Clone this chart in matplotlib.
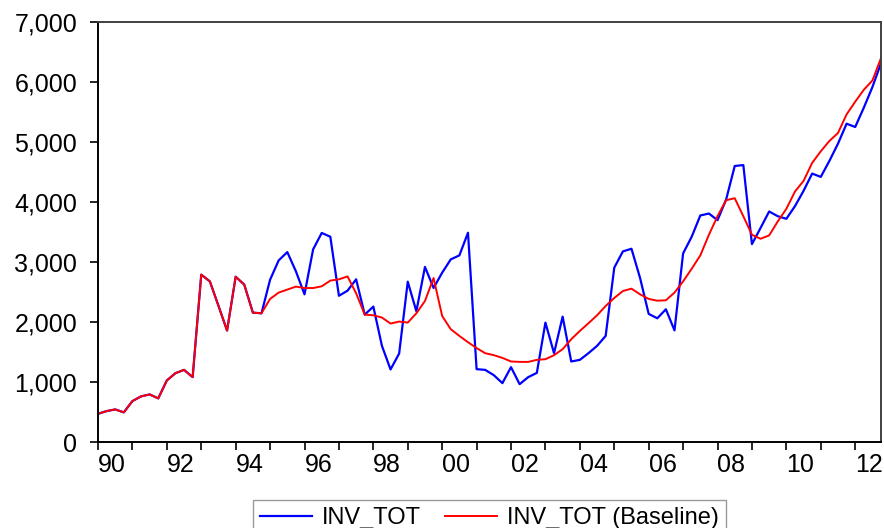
import matplotlib
matplotlib.use("Agg")
import matplotlib.pyplot as plt
from matplotlib.ticker import FuncFormatter, FixedLocator
import numpy as np

plt.rcParams['font.family'] = ['Liberation Sans', 'DejaVu Sans']

# quarterly series, 1990Q1 - 2012Q4
start_year = 1990
inv_tot_baseline = [
    470, 515, 543, 494, 682, 760, 793, 727, 1026, 1147, 1202, 1081,
    2789, 2677, 2270, 1857, 2755, 2622, 2156, 2145, 2385, 2490, 2540, 2590,
    2566, 2566, 2595, 2690, 2711, 2760, 2478, 2123, 2112, 2074, 1974, 2007,
    1990, 2145, 2350, 2733, 2100, 1879, 1768, 1663, 1566, 1480, 1447, 1402,
    1342, 1335, 1335, 1369, 1380, 1447, 1547, 1713, 1851, 1979, 2112, 2267,
    2400, 2516, 2556, 2461, 2385, 2355, 2362, 2490, 2677, 2888, 3110, 3454,
    3763, 4030, 4063, 3763, 3454, 3387, 3443, 3676, 3886, 4174, 4352, 4652,
    4845, 5017, 5150, 5460, 5671, 5870, 6025, 6398,
]
inv_tot = [
    470, 515, 543, 494, 682, 760, 793, 727, 1026, 1147, 1202, 1081,
    2789, 2677, 2270, 1857, 2755, 2622, 2156, 2145, 2705, 3027, 3165, 2845,
    2461, 3210, 3484, 3421, 2437, 2522, 2711, 2123, 2257, 1602, 1209, 1475,
    2672, 2179, 2918, 2567, 2822, 3044, 3110, 3488, 1214, 1202, 1114, 981,
    1247, 964, 1081, 1152, 1990, 1480, 2090, 1342, 1369, 1480, 1602, 1768,
    2905, 3176, 3221, 2733, 2135, 2062, 2212, 1860, 3143, 3421, 3775, 3808,
    3697, 4041, 4600, 4615, 3298, 3567, 3842, 3763, 3720, 3930, 4186, 4474,
    4418, 4684, 4972, 5305, 5250, 5571, 5915, 6314,
]
label_years = list(range(1990, 2013, 2))

t = start_year + np.arange(len(inv_tot)) / 4.0

fig = plt.figure(figsize=(8.84, 5.28), dpi=100)
ax = fig.add_axes([98 / 884, 86 / 528, 783 / 884, 420 / 528])

ax.plot(t, inv_tot, color='#0000FF', lw=1.6, label='INV_TOT')
ax.plot(t, inv_tot_baseline, color='#FF0000', lw=1.4, label='INV_TOT (Baseline)')

ax.set_xlim(start_year, t[-1])
ax.set_ylim(0, 7000)
ax.set_yticks(np.arange(0, 7001, 1000))
ax.yaxis.set_major_formatter(FuncFormatter(lambda v, p: f'{v:,.0f}'))

# yearly tick marks, two-digit labels sitting just right of every other year
ax.xaxis.set_minor_locator(FixedLocator(np.arange(1990, 2013)))
ax.xaxis.set_major_locator(FixedLocator([y + 0.4 for y in label_years]))
ax.set_xticklabels([f'{y % 100:02d}' for y in label_years])
ax.tick_params(axis='x', which='major', length=0, pad=8, labelsize=18)
ax.tick_params(axis='x', which='minor', length=6, width=1.2, direction='out')
ax.tick_params(axis='y', length=6, width=1.2, direction='out', pad=9, labelsize=18)

for side in ('left', 'bottom'):
    ax.spines[side].set_color('black')
    ax.spines[side].set_linewidth(1.4)
for side in ('top', 'right'):
    ax.spines[side].set_color('#404040')
    ax.spines[side].set_linewidth(1.4)

leg = fig.legend(loc='upper center', bbox_to_anchor=(489.5 / 884, 28 / 528),
                 ncol=2, fontsize=17, frameon=True, fancybox=False,
                 handlelength=2.2, handletextpad=0.45, columnspacing=1.0,
                 borderaxespad=0, borderpad=0.3)
leg.get_frame().set_edgecolor('#808080')
leg.get_frame().set_linewidth(1.0)

fig.savefig('out.png', dpi=100)
